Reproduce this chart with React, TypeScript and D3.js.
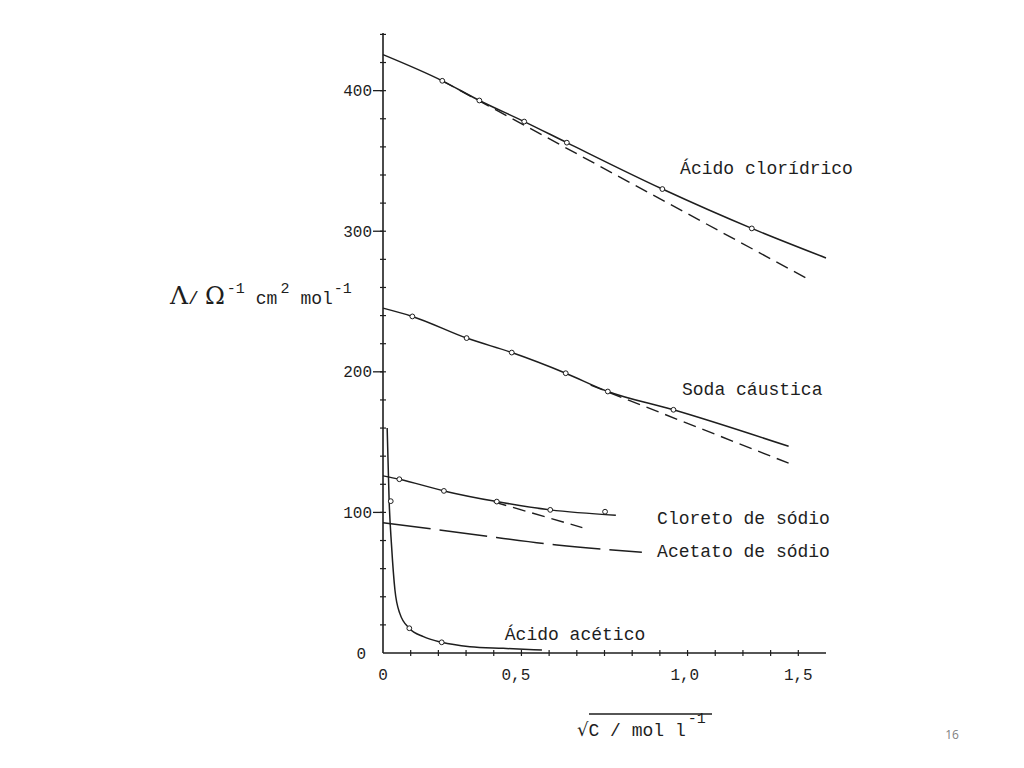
import * as d3 from "d3";
import React from "react";

// values (x = sqrt(c), y = molar conductivity)
const hclCurve: [number, number][] = [[0, 425.6], [0.214, 407], [0.348, 393], [0.51, 378], [0.664, 363], [1.009, 330], [1.332, 302], [1.6, 281]];
const hclPoints: [number, number][] = [[0.214, 407], [0.348, 393], [0.51, 378], [0.664, 363], [1.009, 330], [1.332, 302]];
const hclLimit: [number, number][] = [[0.214, 407], [1.535, 266]];

const naohCurve: [number, number][] = [[0, 245.3], [0.106, 239.4], [0.302, 224], [0.465, 213.7], [0.66, 199], [0.812, 186], [1.049, 173], [1.465, 147]];
const naohPoints: [number, number][] = [[0.106, 239.4], [0.302, 224], [0.465, 213.7], [0.66, 199], [0.812, 186], [1.049, 173]];
const naohLimit: [number, number][] = [[0.75, 190.5], [1.465, 135]];

const naclCurve: [number, number][] = [[0, 126], [0.059, 123.6], [0.22, 115.3], [0.411, 107.7], [0.604, 101.8], [0.841, 98]];
const naclPoints: [number, number][] = [[0.059, 123.6], [0.22, 115.3], [0.411, 107.7], [0.604, 101.8], [0.802, 100.5]];
const naclLimit: [number, number][] = [[0.4, 107.5], [0.72, 89.2]];

const acetateCurve: [number, number][] = [[0, 92.7], [0.314, 84.7], [0.628, 76.9], [0.935, 71.7]];

const aceticCurve: [number, number][] = [[0.015, 160], [0.022, 109], [0.031, 76], [0.043, 45], [0.061, 28], [0.095, 17.6], [0.146, 11.6], [0.212, 7.6], [0.314, 4.5], [0.434, 3.3], [0.574, 2.1]];
const aceticPoints: [number, number][] = [[0.028, 108], [0.095, 17.6], [0.212, 7.6]];

const yTickLabels = [0, 100, 200, 300, 400];
const xTickLabels = ["0", "0,5", "1,0", "1,5"];
const xTickLabelPos = [0, 0.48, 1.09, 1.5];

const labels = [
  { text: "Ácido clorídrico", x: 1.073, y: 345 },
  { text: "Soda cáustica", x: 1.08, y: 188 },
  { text: "Cloreto de sódio", x: 0.99, y: 96 },
  { text: "Acetato de sódio", x: 0.99, y: 73 },
  { text: "Ácido acético", x: 0.44, y: 14 },
];

const ink = "#1e1e1e";
const mono = "'Liberation Mono', 'DejaVu Sans Mono', monospace";

export default function App() {
  const x = d3.scaleLinear().domain([0, 1.6]).range([383, 826]);
  const y = d3.scaleLinear().domain([0, 441]).range([653, 33]);

  const line = d3
    .line<[number, number]>()
    .x(d => x(d[0]))
    .y(d => y(d[1]))
    .curve(d3.curveMonotoneX);
  const straight = d3
    .line<[number, number]>()
    .x(d => x(d[0]))
    .y(d => y(d[1]));

  const yMinor = d3.range(20, 441, 20);
  const xMinor = d3.range(0.1, 1.55, 0.1);

  const solids = [hclCurve, naohCurve, naclCurve, aceticCurve];
  const dashed = [hclLimit, naohLimit, naclLimit];
  const points = [...hclPoints, ...naohPoints, ...naclPoints, ...aceticPoints];

  return (
    <svg
      width={1024}
      height={768}
      style={{ position: "absolute", left: 0, top: 0, background: "#ffffff" }}
    >
      {/* axes */}
      <line x1={x(0)} x2={x(0)} y1={y(0)} y2={y(441)} stroke={ink} strokeWidth={1.6} />
      <line x1={x(0)} x2={x(1.6)} y1={y(0)} y2={y(0)} stroke={ink} strokeWidth={1.4} />

      {yMinor.map(v => (
        <line key={"ym" + v} x1={x(0) - 3} x2={x(0) + 3} y1={y(v)} y2={y(v)} stroke={ink} strokeWidth={1.2} />
      ))}
      {yTickLabels.filter(v => v > 0).map(v => (
        <line key={"yM" + v} x1={x(0) - 10} x2={x(0)} y1={y(v)} y2={y(v)} stroke={ink} strokeWidth={1.3} />
      ))}
      {yTickLabels.map(v => (
        <text key={"yl" + v} x={v === 0 ? 366 : 372} y={y(v)} dy="0.35em" textAnchor="end" fontFamily={mono} fontSize={16} fill={ink}>
          {v}
        </text>
      ))}
      {xMinor.map(v => (
        <line key={"xm" + v.toFixed(1)} x1={x(v)} x2={x(v)} y1={y(0) - 3} y2={y(0) + 3} stroke={ink} strokeWidth={1.2} />
      ))}
      {xTickLabels.map((t, i) => (
        <text key={"xl" + t} x={x(xTickLabelPos[i])} y={680} textAnchor="middle" fontFamily={mono} fontSize={16} fill={ink}>
          {t}
        </text>
      ))}

      {/* curves */}
      {solids.map((d, i) => (
        <path key={"s" + i} d={line(d) || ""} fill="none" stroke={ink} strokeWidth={1.5} />
      ))}
      {dashed.map((d, i) => (
        <path key={"d" + i} d={straight(d) || ""} fill="none" stroke={ink} strokeWidth={1.4} strokeDasharray="13,7" />
      ))}
      <path d={line(acetateCurve) || ""} fill="none" stroke={ink} strokeWidth={1.5} strokeDasharray="48,9" />

      {points.map((p, i) => (
        <circle key={"p" + i} cx={x(p[0])} cy={y(p[1])} r={2.4} fill="#fff" stroke={ink} strokeWidth={1} />
      ))}

      {labels.map(l => (
        <text key={l.text} x={x(l.x)} y={y(l.y)} dy="0.35em" fontFamily={mono} fontSize={18} fill={ink}>
          {l.text}
        </text>
      ))}

      {/* y axis title */}
      <text x={170} y={304} fontFamily={mono} fill={ink} fontSize={18}>
        <tspan fontFamily="'DejaVu Serif', serif" fontSize={25}>Λ</tspan>
        <tspan fontSize={18}>/</tspan>
        <tspan fontFamily="'DejaVu Serif', serif" fontSize={24} dx={6}>Ω</tspan>
        <tspan fontSize={15} dy={-11} dx={2}>-1</tspan>
        <tspan dy={11} dx={11}>cm</tspan>
        <tspan fontSize={15} dy={-11} dx={3}>2</tspan>
        <tspan dy={11} dx={11}>mol</tspan>
        <tspan fontSize={15} dy={-11} dx={1}>-1</tspan>
      </text>

      {/* x axis title */}
      <text x={577} y={736} fontFamily={mono} fill={ink} fontSize={18}>
        <tspan fontFamily="'DejaVu Sans', sans-serif">√</tspan>
        <tspan>C / mol l</tspan>
        <tspan fontSize={15} dy={-13} dx={2}>-1</tspan>
      </text>
      <line x1={589} x2={712} y1={714} y2={714} stroke={ink} strokeWidth={1.3} />

      <text x={952} y={739} textAnchor="middle" fontFamily="'Open Sans', sans-serif" fontSize={12} fill="#7f7f7f">
        16
      </text>
    </svg>
  );
}
